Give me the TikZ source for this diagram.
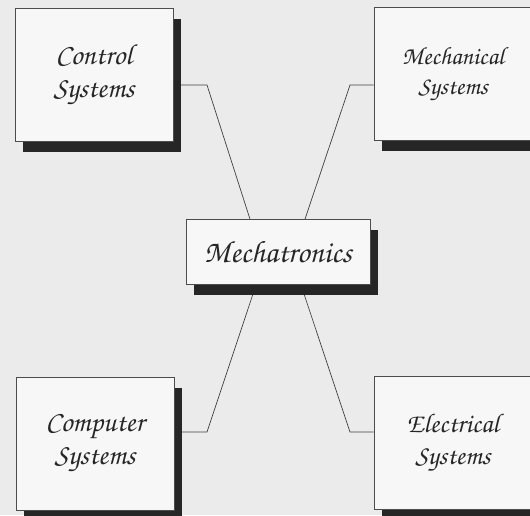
\documentclass[tikz,border=0pt]{standalone}
\usepackage[T1]{fontenc}
\usetikzlibrary{calc,shadows,backgrounds}
\tikzset{>=latex}
\colorlet{paper}{black!8}
\colorlet{boxfill}{black!3}
\newcommand\chancfont{\fontencoding{T1}\fontfamily{pzc}\fontseries{mb}\fontshape{it}\selectfont}

\begin{document}
\begin{tikzpicture}[x=1pt,y=-1pt,
    sysbox/.style={draw=black!70,fill=boxfill,line width=0.7pt,
      minimum width=158pt,minimum height=133pt,align=center,text=black!85,
      font=\fontsize{29}{33}\chancfont,
      drop shadow={shadow xshift=8pt,shadow yshift=-10pt,fill=black!85,opacity=1}},
    link/.style={draw=black!75,line width=0.7pt}]
            \useasboundingbox (0,0) rectangle (530,515);
            \node[sysbox] (ctrl) at (94,75) {Control\\Systems};
            \node[sysbox,font=\fontsize{25}{30}\chancfont] (mech) at (453,74) {Mechanical\\Systems};
            \node[sysbox] (comp) at (95,444) {Computer\\Systems};
            \node[sysbox,font=\fontsize{27}{32}\chancfont] (elec) at (453,443) {Electrical\\Systems};
            \node[sysbox,minimum width=184pt,minimum height=65pt,font=\fontsize{31}{35}\chancfont] (mecha) at (278,252) {Mechatronics};
            \coordinate (cbend) at (207,85);
            \coordinate (mbend) at (350,85);
            \coordinate (pbend) at (207,432);
            \coordinate (ebend) at (350,432);
            \begin{scope}[on background layer]
                \fill[paper] (0,0) rectangle (530,515);
                % connectors run under the boxes
                \draw[link] (ctrl.east |- cbend) -- (cbend) -- ($(mecha.north)+(-28,0)$);
                \draw[link] (mech.west |- mbend) -- (mbend) -- ($(mecha.north)+(27,0)$);
                \draw[link] (comp.east |- pbend) -- (pbend) -- ($(mecha.south)+(-22,0)$);
                \draw[link] (elec.west |- ebend) -- (ebend) -- ($(mecha.south)+(23,0)$);
            \end{scope}
\end{tikzpicture}
\end{document}
